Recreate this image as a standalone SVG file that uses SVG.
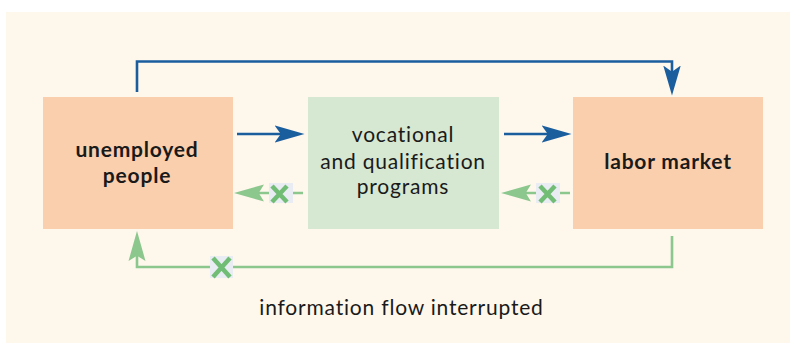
<svg xmlns="http://www.w3.org/2000/svg" width="790" height="343" viewBox="0 0 790 343">
<style>
.lbl{font-family:Lato,"Open Sans","DejaVu Sans",sans-serif;font-size:21px;fill:#1a1a1a;text-anchor:middle;letter-spacing:0.8px}
.bold{font-weight:700;font-size:21px;letter-spacing:0.8px}
.box-o{fill:#facfad}
.box-g{fill:#d6e7d2}
.blue{fill:none;stroke:#1b5e9e;stroke-width:2.6}
.green{fill:none;stroke:#8cc78e;stroke-width:2.6}
.xbox{fill:#e9ecf3}
.xmark{stroke:#72bd76;stroke-width:4.5;fill:none}
</style>
<defs>
<marker id="ab" markerUnits="userSpaceOnUse" markerWidth="30" markerHeight="20" viewBox="0 0 24 14" refX="14" refY="7" orient="auto">
<path d="M0,0 L24,7 L0,14 L5,7 Z" fill="#1b5e9e"/>
</marker>
<marker id="ag" markerUnits="userSpaceOnUse" markerWidth="30" markerHeight="20" viewBox="0 0 23 13" refX="13" refY="6.5" orient="auto">
<path d="M0,0 L23,6.5 L0,13 L4,6.5 Z" fill="#8cc78e"/>
</marker>
</defs>
<rect x="6" y="12" width="784" height="331" fill="#fef7ec"/>
<g id="unemployed">
<rect class="box-o" x="43" y="97" width="190" height="132"/>
<text class="lbl bold" x="137" y="157">unemployed</text>
<text class="lbl bold" x="137" y="183">people</text>
</g>
<g id="programs">
<rect class="box-g" x="308" y="97" width="191" height="132"/>
<text class="lbl" x="403" y="142">vocational</text>
<text class="lbl" x="403" y="169">and qualification</text>
<text class="lbl" x="403" y="194">programs</text>
</g>
<g id="labor">
<rect class="box-o" x="573" y="97" width="190" height="132"/>
<text class="lbl bold" x="668" y="169">labor market</text>
</g>
<g id="connectors">
<path class="blue" d="M137,92 V61.5 H672 V83" marker-end="url(#ab)"/>
<path class="blue" d="M237,134 H292" marker-end="url(#ab)"/>
<path class="blue" d="M504,134 H559" marker-end="url(#ab)"/>
<path class="green" d="M303,193 H247" marker-end="url(#ag)"/>
<path class="green" d="M570,193 H514" marker-end="url(#ag)"/>
<path class="green" d="M672,236 V267 H137 V244" marker-end="url(#ag)"/>
<g id="x1">
<rect class="xbox" x="269" y="183" width="24" height="20"/>
<path class="xmark" d="M272,186 L287,202 M287,186 L272,202"/>
</g>
<g id="x2">
<rect class="xbox" x="536" y="183" width="24" height="20"/>
<path class="xmark" d="M540,186 L555,202 M555,186 L540,202"/>
</g>
<g id="x3">
<rect class="xbox" x="210" y="256" width="23" height="22"/>
<path class="xmark" d="M213,258 L230,277 M230,258 L213,277"/>
</g>
</g>
<text class="lbl" x="401.5" y="315">information flow interrupted</text>
</svg>
